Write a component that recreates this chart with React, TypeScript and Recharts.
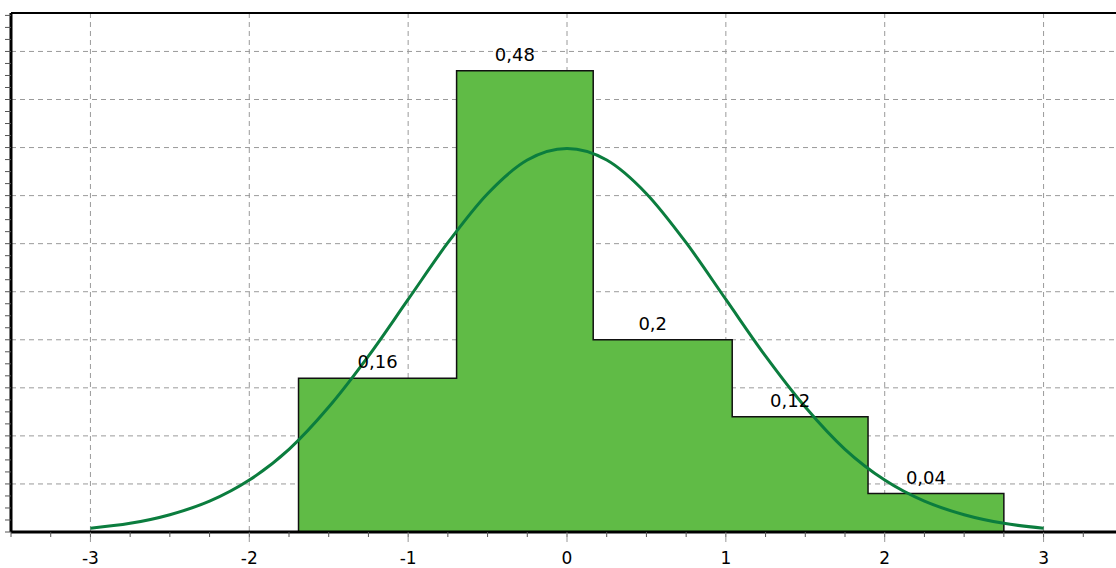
import {
  ComposedChart,
  Area,
  Line,
  XAxis,
  YAxis,
  CartesianGrid,
  ReferenceLine,
  ReferenceDot,
} from "recharts"

// histogram bins (edges) and their relative frequencies
const binEdges = [-1.69, -0.695, 0.165, 1.04, 1.895, 2.75]
const freqs = [0.16, 0.48, 0.2, 0.12, 0.04]

// fitted curve, read every 0.25
const curveX = [
  -3, -2.75, -2.5, -2.25, -2, -1.75, -1.5, -1.25, -1, -0.75, -0.5, -0.25, 0,
  0.25, 0.5, 0.75, 1, 1.25, 1.5, 1.75, 2, 2.25, 2.5, 2.75, 3,
]
const curveY = [
  0.004, 0.009, 0.018, 0.032, 0.054, 0.086, 0.13, 0.183, 0.242, 0.301, 0.352,
  0.387, 0.399, 0.387, 0.352, 0.301, 0.242, 0.183, 0.13, 0.086, 0.054, 0.032,
  0.018, 0.009, 0.004,
]

const xTicks = [-3, -2, -1, 0, 1, 2, 3]
const xMinorTicks = [
  -3.5, -3.25, -3, -2.75, -2.5, -2.25, -2, -1.75, -1.5, -1.25, -1, -0.75, -0.5,
  -0.25, 0, 0.25, 0.5, 0.75, 1, 1.25, 1.5, 1.75, 2, 2.25, 2.5, 2.75, 3, 3.25, 3.5,
]
const yGrid = [0.05, 0.1, 0.15, 0.2, 0.25, 0.3, 0.35, 0.4, 0.45, 0.5]
const yMinorTicks = Array.from({ length: 44 }, (_, i) => +(i * 0.0125).toFixed(4))

const xMin = -3.5
const xMax = 3.5
const yMax = 0.54

const n = freqs.length
const stepData = [
  { x: binEdges[0], h: 0 },
  ...freqs.map((f, i) => ({ x: binEdges[i], h: f })),
  { x: binEdges[n], h: freqs[n - 1] },
  { x: binEdges[n], h: 0 },
]
const curveData = curveX.map((x, i) => ({ x, p: curveY[i] }))

const font = "'DejaVu Sans', Verdana, sans-serif"
const fmt = (v: number) => String(v).replace(".", ",")
const blank = () => ""

export default function App() {
  return (
    <div
      style={{
        position: "fixed",
        left: 0,
        top: 0,
        width: 1116,
        height: 568,
        overflow: "hidden",
        background: "#fff",
        fontFamily: font,
      }}
    >
      <ComposedChart
        width={1130}
        height={568}
        margin={{ top: 13, right: 7, left: 0, bottom: 0 }}
      >
        <XAxis
          xAxisId="q"
          dataKey="x"
          type="number"
          domain={[xMin, xMax]}
          ticks={xMinorTicks}
          allowDataOverflow
          interval={0}
          tickFormatter={blank}
          tick={{ fontSize: 1 }}
          tickSize={5}
          tickLine={{ stroke: "#555" }}
          axisLine={{ stroke: "#000", strokeWidth: 3 }}
          height={1}
        />
        <XAxis
          xAxisId="x"
          dataKey="x"
          type="number"
          domain={[xMin, xMax]}
          ticks={xTicks}
          allowDataOverflow
          interval={0}
          tickFormatter={(v: number) => String(v)}
          tick={{ fill: "#000", fontSize: 17, fontFamily: font }}
          tickSize={9}
          tickMargin={10}
          tickLine={{ stroke: "#999", strokeDasharray: "5 3" }}
          axisLine={false}
          height={35}
        />
        <YAxis
          yAxisId="q"
          type="number"
          domain={[0, yMax]}
          ticks={yMinorTicks}
          allowDataOverflow
          interval={0}
          tickFormatter={blank}
          tick={{ fontSize: 1 }}
          tickSize={6}
          tickLine={{ stroke: "#555" }}
          axisLine={{ stroke: "#000", strokeWidth: 3 }}
          width={11}
        />
        <YAxis
          yAxisId="y"
          type="number"
          domain={[0, yMax]}
          ticks={yGrid}
          allowDataOverflow
          interval={0}
          tickFormatter={blank}
          tick={{ fontSize: 1 }}
          tickLine={false}
          axisLine={false}
          width={0}
        />
        <CartesianGrid
          xAxisId="x"
          yAxisId="y"
          stroke="#9a9a9a"
          strokeDasharray="5 4"
        />
        <ReferenceLine xAxisId="x" yAxisId="y" y={yMax} stroke="#000" strokeWidth={2} />
        <Area
          xAxisId="x"
          yAxisId="y"
          data={stepData}
          dataKey="h"
          type="stepAfter"
          stroke="#111"
          strokeWidth={1.5}
          fill="#60bb46"
          fillOpacity={1}
          dot={false}
          activeDot={false}
          isAnimationActive={false}
        />
        <Line
          xAxisId="x"
          yAxisId="y"
          data={curveData}
          dataKey="p"
          type="monotone"
          stroke="#0b7d3e"
          strokeWidth={3}
          dot={false}
          activeDot={false}
          isAnimationActive={false}
        />
        {freqs.map((f, i) => (
          <ReferenceDot
            key={i}
            xAxisId="x"
            yAxisId="y"
            x={(binEdges[i] + binEdges[i + 1]) / 2}
            y={f}
            r={0}
            fill="none"
            stroke="none"
            label={{
              value: fmt(f),
              position: "top",
              offset: 10,
              dx: i === 0 ? 0 : -10,
              fill: "#000",
              fontSize: 18,
              fontFamily: font,
            }}
          />
        ))}
      </ComposedChart>
    </div>
  )
}
